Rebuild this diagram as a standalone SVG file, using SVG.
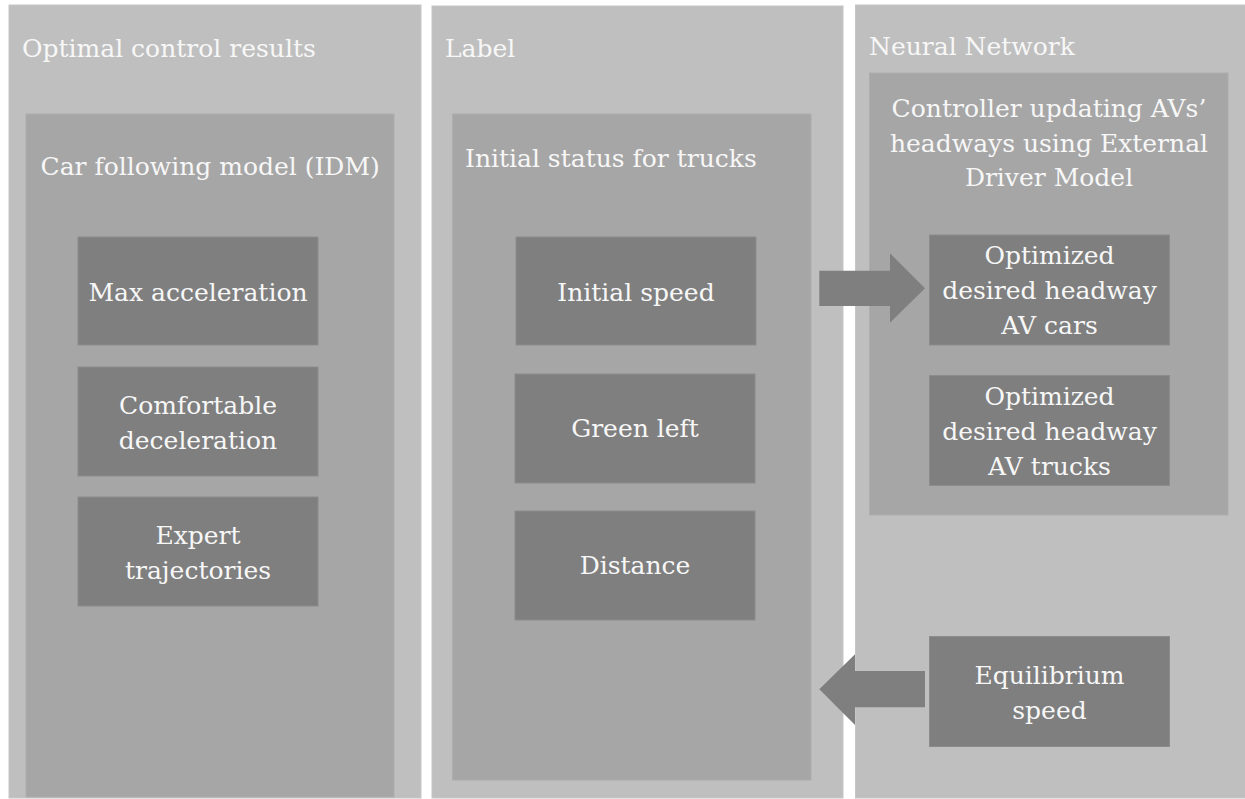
<svg xmlns="http://www.w3.org/2000/svg" width="1245" height="799" viewBox="0 0 1245 799">
<style>
.outer{fill:#bfbfbf;stroke:#c6c6c6;stroke-width:1}
.inner{fill:#a6a6a6;stroke:#adadad;stroke-width:1}
.box{fill:#7f7f7f;stroke:#8c8c8c;stroke-width:1}
.arrow{fill:#7f7f7f}
text{font-family:"DejaVu Serif","Liberation Serif",serif;font-size:25px;fill:#f7f7f7}
.c{text-anchor:middle}
</style>
<rect x="0" y="0" width="1245" height="799" fill="#ffffff"/>
<g id="panel-optimal">
<rect class="outer" x="9" y="5" width="412" height="793"/>
<text x="22" y="57">Optimal control results</text>
</g>
<g id="panel-label">
<rect class="outer" x="432" y="6" width="411" height="792"/>
<text x="445" y="56.5">Label</text>
</g>
<g id="panel-nn">
<rect class="outer" x="855.5" y="5" width="390" height="793"/>
<text x="869" y="54.5">Neural Network</text>
</g>
<g id="idm">
<rect class="inner" x="26" y="114" width="368" height="683"/>
<text x="40.5" y="175">Car following model (IDM)</text>
</g>
<g id="initial-status">
<rect class="inner" x="452.5" y="114" width="358.5" height="666"/>
<text x="465" y="166.5">Initial status for trucks</text>
</g>
<g id="controller">
<rect class="inner" x="869.5" y="73" width="358.5" height="442"/>
<text class="c" x="1049" y="116.5">Controller updating AVs’</text>
<text class="c" x="1049" y="151.5">headways using External</text>
<text class="c" x="1049" y="185.5">Driver Model</text>
</g>
<g id="max-acc">
<rect class="box" x="78" y="237" width="240" height="108"/>
<text class="c" x="198" y="300.5">Max acceleration</text>
</g>
<g id="comf-dec">
<rect class="box" x="78" y="367" width="240" height="109"/>
<text class="c" x="198" y="413.5">Comfortable</text>
<text class="c" x="198" y="448.5">deceleration</text>
</g>
<g id="expert">
<rect class="box" x="78" y="497" width="240" height="109"/>
<text class="c" x="198" y="543.5">Expert</text>
<text class="c" x="198" y="578.5">trajectories</text>
</g>
<g id="initial-speed">
<rect class="box" x="516" y="237" width="240" height="108"/>
<text class="c" x="636" y="300.5">Initial speed</text>
</g>
<g id="green-left">
<rect class="box" x="515" y="374" width="240" height="109"/>
<text class="c" x="635" y="437">Green left</text>
</g>
<g id="distance">
<rect class="box" x="515" y="511" width="240" height="109"/>
<text class="c" x="635" y="574">Distance</text>
</g>
<g id="opt-cars">
<rect class="box" x="929.5" y="235" width="240" height="110"/>
<text class="c" x="1049.5" y="264">Optimized</text>
<text class="c" x="1049.5" y="299">desired headway</text>
<text class="c" x="1049.5" y="334">AV cars</text>
</g>
<g id="opt-trucks">
<rect class="box" x="929.5" y="375.5" width="240" height="110"/>
<text class="c" x="1049.5" y="405">Optimized</text>
<text class="c" x="1049.5" y="440">desired headway</text>
<text class="c" x="1049.5" y="474.5">AV trucks</text>
</g>
<g id="equilibrium">
<rect class="box" x="929.5" y="636.5" width="240" height="110"/>
<text class="c" x="1049.5" y="683.5">Equilibrium</text>
<text class="c" x="1049.5" y="718.5">speed</text>
</g>
<g id="connectors">
<path class="arrow" d="M819.3,270.7 H890 V253.3 L925,288.3 L890,322.7 V306 H819.3 Z"/>
<path class="arrow" d="M925,671 H855 V654.3 L819.3,689.3 L855,725 V707.3 H925 Z"/>
</g>
</svg>
